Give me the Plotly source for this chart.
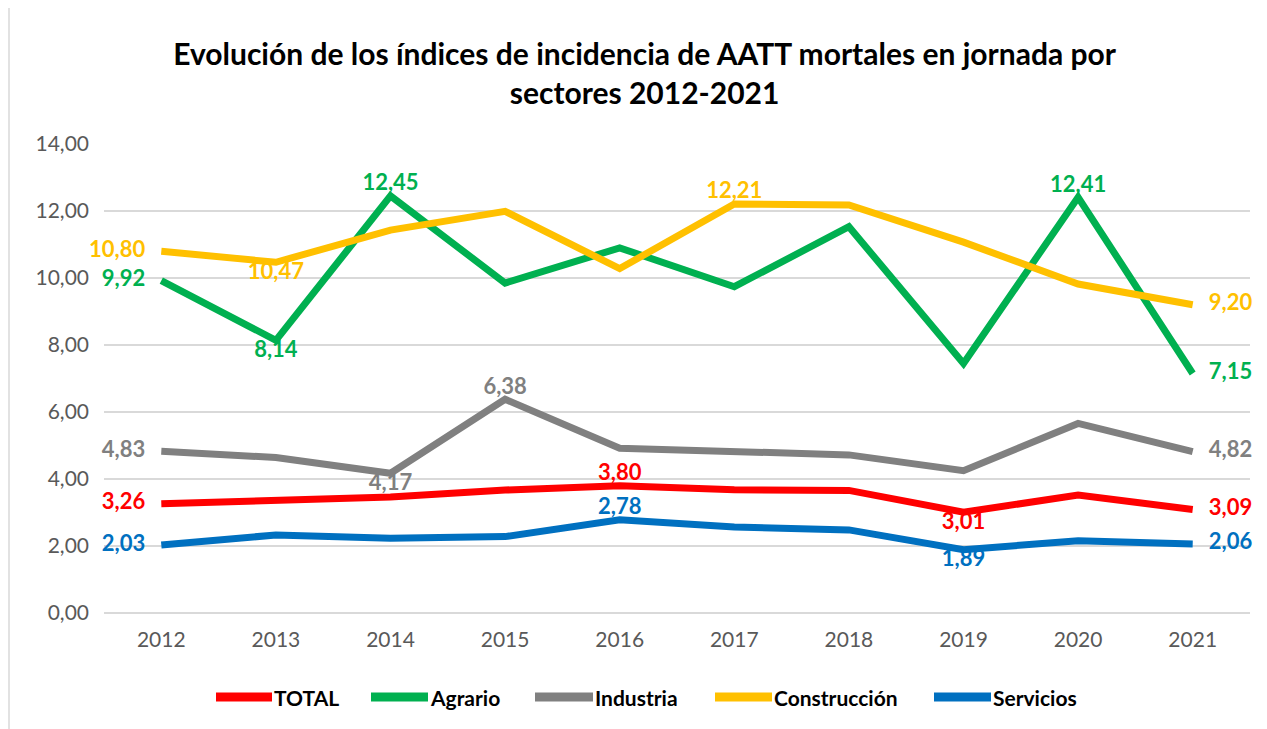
import plotly.graph_objects as go

years = ["2012", "2013", "2014", "2015", "2016", "2017", "2018", "2019", "2020", "2021"]

total = [3.26, 3.34, 3.46, 3.67, 3.80, 3.68, 3.66, 3.01, 3.52, 3.09]
agrario = [9.92, 8.14, 12.45, 9.85, 10.90, 9.74, 11.53, 7.45, 12.41, 7.15]
industria = [4.83, 4.64, 4.17, 6.38, 4.92, 4.82, 4.72, 4.25, 5.66, 4.82]
construccion = [10.80, 10.47, 11.43, 11.99, 10.28, 12.21, 12.18, 11.07, 9.82, 9.20]
servicios = [2.03, 2.33, 2.23, 2.28, 2.78, 2.57, 2.48, 1.89, 2.16, 2.06]

# label position per point ("" = no label)
total_lbl = ["middle left", "", "", "", "top center", "", "", "bottom center", "", "middle right"]
agrario_lbl = ["middle left", "bottom center", "top center", "", "", "", "", "", "top center", "middle right"]
industria_lbl = ["middle left", "", "bottom center", "top center", "", "", "", "", "", "middle right"]
construccion_lbl = ["middle left", "bottom center", "", "", "", "top center", "", "", "", "middle right"]
servicios_lbl = ["middle left", "", "", "", "top center", "", "", "bottom center", "", "middle right"]

series = [
    ("TOTAL", total, total_lbl, "#FF0000"),
    ("Agrario", agrario, agrario_lbl, "#00B050"),
    ("Industria", industria, industria_lbl, "#808080"),
    ("Construcción", construccion, construccion_lbl, "#FFC000"),
    ("Servicios", servicios, servicios_lbl, "#0070C0"),
]

FONT = "Lato, 'Open Sans', sans-serif"

# plot area geometry (figure pixels) used to place the hand-drawn legend
L, R, T, B = 96, 17, 136, 116
W, H = 1259, 721
PW, PH = W - L - R, H - T - B
legend_line_px = [(208, 264), (363, 420), (527, 585), (707, 764), (926, 983)]
legend_y_px = 689


def fmt(v, p):
    s = ("%.2f" % v).replace(".", ",")
    if p == "middle left":
        return s + "   "
    if p == "middle right":
        return "   " + s
    return s


fig = go.Figure()
for name, vals, lbls, color in series:
    texts = [fmt(v, p) if p else "" for v, p in zip(vals, lbls)]
    pos = [p if p else "top center" for p in lbls]
    fig.add_trace(go.Scatter(
        x=years, y=vals, name=name, mode="lines+text",
        line=dict(color=color, width=7),
        text=texts, textposition=pos,
        textfont=dict(family=FONT, size=22, color=color, weight="bold"),
        cliponaxis=False,
        hoverinfo="skip",
        showlegend=False,
    ))

ly = (T + PH - legend_y_px) / PH
for (name, vals, lbls, color), (x0, x1) in zip(series, legend_line_px):
    px0 = (x0 - L) / PW
    px1 = (x1 - L) / PW
    fig.add_shape(type="line", xref="paper", yref="paper",
                  x0=px0, x1=px1, y0=ly, y1=ly,
                  line=dict(color=color, width=9))
    fig.add_annotation(xref="paper", yref="paper", x=px1, y=ly,
                       xanchor="left", yanchor="middle", showarrow=False,
                       text="<b>%s</b>" % name, xshift=0,
                       font=dict(family=FONT, size=21, color="black"))

fig.update_layout(
    width=W, height=H,
    paper_bgcolor="white", plot_bgcolor="white",
    separators=",.",
    margin=dict(l=L, r=R, t=T, b=B),
    title=dict(
        text="<b>Evolución de los índices de incidencia de AATT mortales en jornada por<br>sectores 2012-2021</b>",
        x=0.5056, xanchor="center", y=0.921, yanchor="middle",
        font=dict(family=FONT, size=30, color="black"),
    ),
    font=dict(family=FONT),
    showlegend=False,
)
fig.update_xaxes(
    type="category", showgrid=False, showline=False, ticks="",
    ticklabelstandoff=12,
    tickfont=dict(family=FONT, size=21, color="#595959"),
)
fig.update_yaxes(
    range=[0, 14], dtick=2, tickformat=".2f",
    showgrid=True, gridcolor="#D9D9D9", gridwidth=1.5,
    zeroline=True, zerolinecolor="#D9D9D9", zerolinewidth=1.5,
    showline=False, ticks="", ticklabelstandoff=14,
    tickfont=dict(family=FONT, size=21, color="#595959"),
)
fig.add_shape(type="rect", xref="paper", yref="paper",
              x0=-0.0829, x1=1.2, y0=-0.5, y1=1.5,
              line=dict(color="#D9D9D9", width=1.5), fillcolor="rgba(0,0,0,0)", layer="below")

fig.write_html("out.html")
